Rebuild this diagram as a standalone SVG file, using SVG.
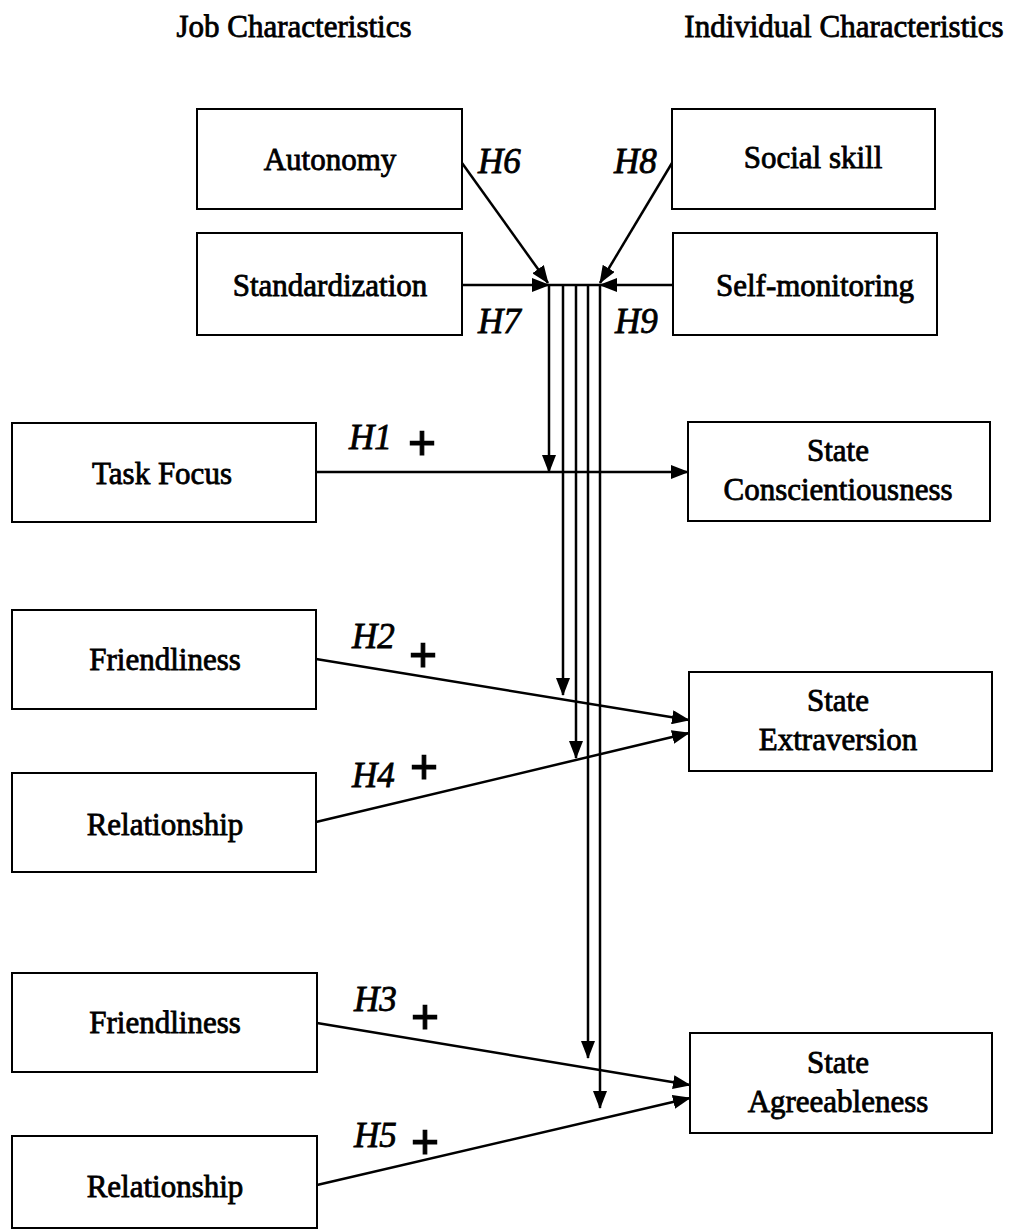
<svg xmlns="http://www.w3.org/2000/svg" width="1027" height="1230" viewBox="0 0 1027 1230">
<style>
.box{fill:#fff;stroke:#000;stroke-width:2}
.t{font-family:"Liberation Serif","Times New Roman",serif;font-size:31px;text-anchor:middle;fill:#000;stroke:#000;stroke-width:0.8}
.h{font-family:"Liberation Serif","Times New Roman",serif;font-size:35px;font-style:italic;fill:#000;stroke:#000;stroke-width:0.8}
.p{font-family:"Liberation Serif","Times New Roman",serif;font-size:50px;font-weight:bold;text-anchor:middle;fill:#000;stroke:#000;stroke-width:1.2}
.c{stroke:#000;stroke-width:2.5;fill:none}
.ca{stroke:#000;stroke-width:2.5;fill:none;marker-end:url(#ah)}
</style>
<defs>
<marker id="ah" viewBox="0 0 18 14" refX="17" refY="7" markerWidth="18" markerHeight="14" markerUnits="userSpaceOnUse" orient="auto">
<path d="M0,0 L18,7 L0,14 Z" fill="#000"/>
</marker>
</defs>
<rect width="1027" height="1230" fill="#fff"/>
<text class="t" x="294" y="37">Job Characteristics</text>
<text class="t" x="844" y="37">Individual Characteristics</text>

<g id="autonomy"><rect class="box" x="197" y="109" width="265" height="100"/><text class="t" x="330" y="170">Autonomy</text></g>
<g id="standardization"><rect class="box" x="197" y="233" width="265" height="102"/><text class="t" x="330" y="296">Standardization</text></g>
<g id="social-skill"><rect class="box" x="672" y="109" width="263" height="100"/><text class="t" x="813" y="168">Social skill</text></g>
<g id="self-monitoring"><rect class="box" x="673" y="233" width="264" height="102"/><text class="t" x="815" y="296">Self-monitoring</text></g>
<g id="task-focus"><rect class="box" x="12" y="423" width="304" height="99"/><text class="t" x="162" y="484">Task Focus</text></g>
<g id="state-conscientiousness"><rect class="box" x="688" y="422" width="302" height="99"/><text class="t" x="838" y="461">State</text><text class="t" x="838" y="500">Conscientiousness</text></g>
<g id="friendliness-1"><rect class="box" x="12" y="610" width="304" height="99"/><text class="t" x="165" y="670">Friendliness</text></g>
<g id="state-extraversion"><rect class="box" x="689" y="672" width="303" height="99"/><text class="t" x="838" y="711">State</text><text class="t" x="838" y="750">Extraversion</text></g>
<g id="relationship-1"><rect class="box" x="12" y="773" width="304" height="99"/><text class="t" x="165" y="835">Relationship</text></g>
<g id="friendliness-2"><rect class="box" x="12" y="973" width="305" height="99"/><text class="t" x="165" y="1033">Friendliness</text></g>
<g id="state-agreeableness"><rect class="box" x="690" y="1033" width="302" height="100"/><text class="t" x="838" y="1073">State</text><text class="t" x="838" y="1112">Agreeableness</text></g>
<g id="relationship-2"><rect class="box" x="12" y="1136" width="305" height="92"/><text class="t" x="165" y="1197">Relationship</text></g>

<g id="connectors">
<line class="ca" x1="462" y1="163" x2="548" y2="283"/>
<line class="ca" x1="672" y1="163" x2="600" y2="283"/>
<line class="ca" x1="462" y1="285" x2="549" y2="285"/>
<line class="ca" x1="673" y1="285" x2="600" y2="285"/>
<line class="c" x1="549" y1="285" x2="600" y2="285"/>
<line class="ca" x1="549" y1="285" x2="549" y2="472"/>
<line class="ca" x1="563" y1="285" x2="563" y2="695"/>
<line class="ca" x1="576" y1="285" x2="576" y2="758"/>
<line class="ca" x1="588" y1="285" x2="588" y2="1058"/>
<line class="ca" x1="600" y1="285" x2="600" y2="1108"/>
<line class="ca" x1="316" y1="472" x2="688" y2="472"/>
<line class="ca" x1="316" y1="659" x2="689" y2="720"/>
<line class="ca" x1="316" y1="822" x2="689" y2="733"/>
<line class="ca" x1="317" y1="1023" x2="690" y2="1085"/>
<line class="ca" x1="317" y1="1185" x2="690" y2="1098"/>
</g>

<g id="labels">
<text class="h" x="478" y="173">H6</text>
<text class="h" x="614" y="173">H8</text>
<text class="h" x="478" y="333">H7</text>
<text class="h" x="615" y="333">H9</text>
<text class="h" x="349" y="449">H1</text>
<text class="p" x="422" y="460">+</text>
<text class="h" x="352" y="648">H2</text>
<text class="p" x="423" y="672">+</text>
<text class="h" x="352" y="787">H4</text>
<text class="p" x="424" y="784">+</text>
<text class="h" x="354" y="1011">H3</text>
<text class="p" x="425" y="1034">+</text>
<text class="h" x="354" y="1147">H5</text>
<text class="p" x="425" y="1159">+</text>
</g>
</svg>
